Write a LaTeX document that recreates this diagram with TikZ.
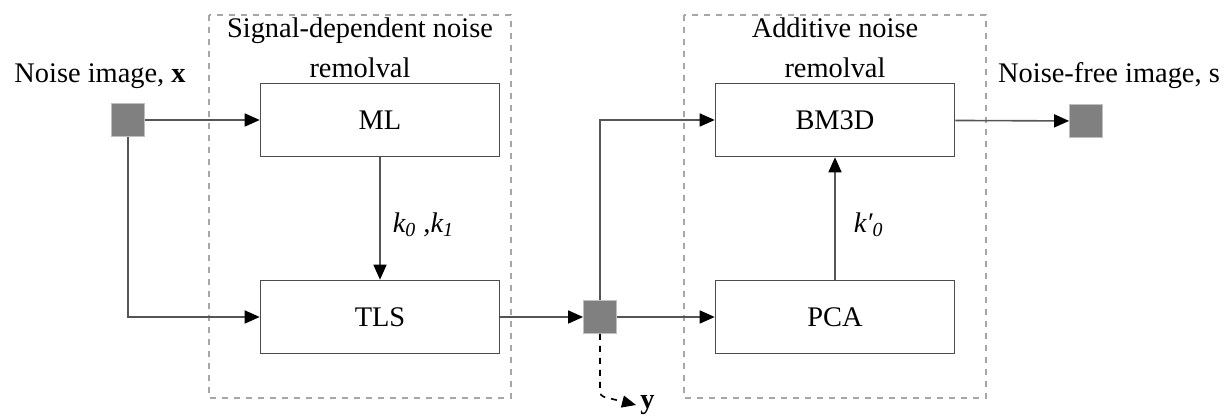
\documentclass[tikz,border=0pt]{standalone}
\usepackage{fontspec}
\setmainfont{Liberation Serif}
\usepackage{tikz}
\usetikzlibrary{positioning,arrows.meta,calc}
\definecolor{wire}{HTML}{555555}
\definecolor{pix}{HTML}{808080}
\tikzset{
  blk/.style ={draw=black!70, thick, minimum width=119.5pt, minimum height=36.5pt, inner sep=0pt, font=\fontsize{14.2}{16}\selectfont},
  pixel/.style={draw=black!25, fill=pix, minimum size=16.5pt, inner sep=0pt},
  stage/.style={draw=black!35, dashed, thick},
  ttl/.style ={align=center, font=\fontsize{14.2}{20}\selectfont, inner sep=0pt, text=black},
  edge/.style={-{Triangle[length=7.5pt,width=6.5pt,color=black]}, wire, thick},
  side/.style={-{Triangle[length=7pt,width=6pt]}, black, thick, dashed, rounded corners=2pt},
}

\begin{document}
\begin{tikzpicture}[x=0.5pt,y=-0.5pt]
        \useasboundingbox (0,0) rectangle (1227,416);
        % stages
        \draw[stage] (209,15) rectangle (511,398);
        \draw[stage] (684,15) rectangle (986,398);
        \node[ttl, anchor=base] (T1) at (360,78) {Signal-dependent noise\\remolval};
        \node[ttl, anchor=base] (T2) at (835,78) {Additive noise\\remolval};
        % blocks
        \node[blk] (ML)   at (380,120) {ML};
        \node[blk] (TLS)  at (380,317) {TLS};
        \node[blk] (BM3D) at (835,120) {BM3D};
        \node[blk] (PCA)  at (835,317) {PCA};
        \node[pixel] (X) at (128,120) {};
        \node[pixel] (J) at (600,317) {};
        \node[pixel] (S) at (1086,121) {};
        \node[ttl, anchor=base] (XL) at (100,83) {Noise image, \textbf{x}};
        \node[ttl, anchor=base] (SL) at (1109,83) {Noise-free image, s};
        \coordinate (V) at (636,405);
        \node[ttl, anchor=base west] (VL) at (640,409) {\textbf{y}};
        % connectors
        \draw[edge] (X) -- (ML);
        \draw[edge] (X.south) |- (TLS.west);
        \draw[edge] (ML) -- node[ttl, pos=0.55, anchor=west, xshift=6pt] {\itshape k\textsubscript{0} ,k\textsubscript{1}} (TLS);
        \draw[edge] (TLS) -- (J);
        \draw[edge] (J) -- (PCA);
        \draw[edge] (J.north) |- (BM3D.west);
        \draw[edge] (PCA) -- node[ttl, pos=0.45, anchor=west, xshift=9pt] {\itshape k′\textsubscript{0}} (BM3D);
        \draw[edge] (BM3D) -- (S);
        \draw[side] (J.south) -- ++(0,62) -- (V);
      \end{tikzpicture}
\end{document}
